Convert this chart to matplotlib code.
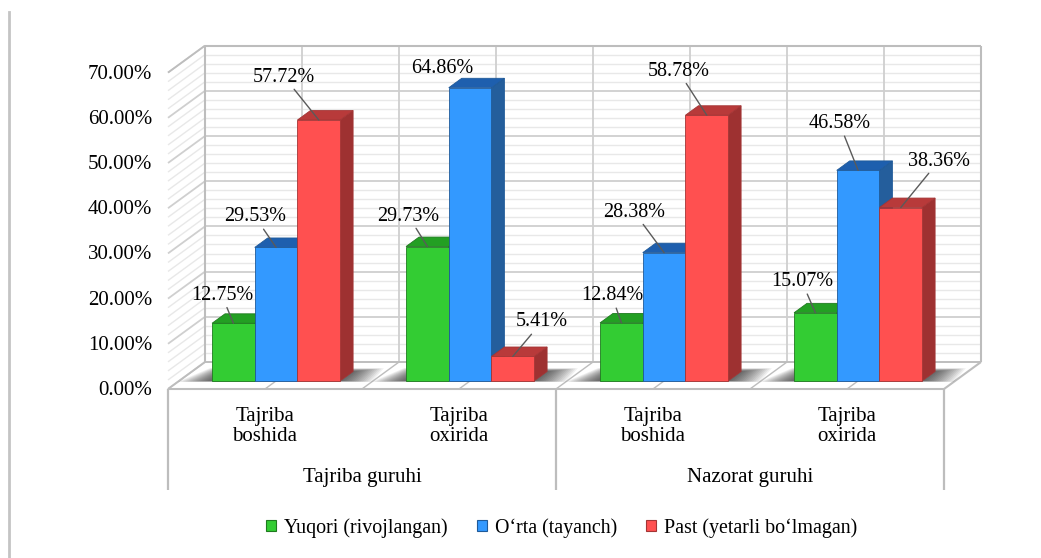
import matplotlib
matplotlib.use("Agg")
import matplotlib.pyplot as plt
from matplotlib.patches import Polygon, Patch

# ---------------- data ----------------
categories = ["Tajriba\nboshida", "Tajriba\noxirida", "Tajriba\nboshida", "Tajriba\noxirida"]
groups = ["Tajriba guruhi", "Nazorat guruhi"]
series = ["Yuqori (rivojlangan)", "O\u2018rta (tayanch)", "Past (yetarli bo\u2018lmagan)"]
yuqori = [12.75, 29.73, 12.84, 15.07]
orta = [29.53, 64.86, 28.38, 46.58]
past = [57.72, 5.41, 58.78, 38.36]
yticks = [0, 10, 20, 30, 40, 50, 60, 70]

# ---------------- styles / layout ----------------
values = [yuqori, orta, past]
front_cols = ["#33CC33", "#3399FF", "#FF5050"]
top_cols = ["#239F23", "#1E5FAE", "#B83A3A"]
side_cols = ["#1E8A1E", "#245E9C", "#9E3131"]
edge_cols = ["#1F7A1F", "#1F5A99", "#A33535"]

# label offsets (pixels) from the bar's front-top centre, per series per category
label_off = [
    [(-11.5, 28), (-19, 30.5), (-9.5, 27), (-13.5, 31)],
    [(-21, 30.5), (-28, 19), (-30, 40.5), (-18.5, 46.5)],
    [(-34.5, 43), (29, 34.5), (-28.5, 44), (38, 46.5)],
]
leader = [
    [True, True, True, True],
    [True, False, True, True],
    [True, True, True, True],
]

W, H = 1041, 558
PX_X, PX_Y = 194.0, 4.52      # pixels per category / per percent
X0, Y0 = 168.0, 389.0         # pixel of front-left floor corner
DX, DY = 37.0 / PX_X, 27.0 / PX_Y   # full depth offset (data units)
ZF, ZB = 0.30, 0.65           # bar depth range
BW = 42.7 / PX_X
YMAX = 70
BOX_BOTTOM = -22.3
CAT_Y = -8.3
GRP_Y = -19.5

plt.rcParams["font.family"] = ["Liberation Serif", "DejaVu Serif"]
FS = 14.5

fig = plt.figure(figsize=(W / 100, H / 100), dpi=100)
ax = fig.add_axes([0, 0, 1, 1])
ax.set_xlim(-X0 / PX_X, (W - X0) / PX_X)
ax.set_ylim(-(H - Y0) / PX_Y, Y0 / PX_Y)
ax.axis("off")

ncat = len(categories)


def P(x, y, z):
    return (x + z * DX, y + z * DY)


def line(p, q, color, lw, z=1):
    ax.plot([p[0], q[0]], [p[1], q[1]], color=color, lw=lw, zorder=z,
            solid_capstyle="butt")


# page border line at the left
fig.add_artist(plt.Line2D([8.5 / W, 8.5 / W], [0, 1 - 12 / H], color="#C4C4C4", lw=2))

# ---------------- walls ----------------
MAJ, MIN, FRAME = "#CFCFCF", "#E8E8E8", "#BDBDBD"
for v in range(0, YMAX + 1, 2):
    major = v % 10 == 0
    c = MAJ if major else MIN
    lw = 1.3 if major else 1.0
    line(P(0, v, 1), P(ncat, v, 1), c, lw, 1 if not major else 1.1)
    line(P(0, v, 0), P(0, v, 1), c, lw, 1 if not major else 1.1)
for j in range(1, 2 * ncat):
    line(P(j * 0.5, 0, 1), P(j * 0.5, YMAX, 1), MAJ, 1.3, 1.1)
    line(P(j * 0.5, 0, 0), P(j * 0.5, 0, 1), FRAME, 1.0, 1.1)
line(P(0, 0, 1), P(0, YMAX, 1), FRAME, 1.5, 1.2)
line(P(ncat, 0, 1), P(ncat, YMAX, 1), FRAME, 1.5, 1.2)
line(P(0, YMAX, 1), P(ncat, YMAX, 1), FRAME, 1.5, 1.2)
line(P(0, YMAX, 0), P(0, YMAX, 1), FRAME, 1.2, 1.2)
line(P(0, 0, 1), P(ncat, 0, 1), FRAME, 1.3, 1.2)
line(P(0, 0, 0), P(ncat, 0, 0), FRAME, 1.5, 1.2)
line(P(0, 0, 0), P(0, 0, 1), FRAME, 1.3, 1.2)
line(P(ncat, 0, 0), P(ncat, 0, 1), FRAME, 1.5, 1.2)

for xb in [0, 2, 4]:
    line((xb, 0), (xb, BOX_BOTTOM), FRAME, 1.6, 1.2)

# ---------------- shadows ----------------
nsh = 14
for k in range(ncat):
    gx0 = k + 0.5 - 1.5 * BW
    gx1 = k + 0.5 + 1.5 * BW
    for i in range(nsh):
        f = (nsh - i) / nsh
        ex = 0.17 * f
        ez = 0.12 * f
        pts = [P(gx0 - ex, 0, ZF - ez * 0.3), P(gx1 + ex, 0, ZF - ez * 0.3),
               P(gx1 + ex * 0.8, 0, ZB + ez), P(gx0 - ex * 0.6, 0, ZB + ez)]
        ax.add_patch(Polygon(pts, closed=True, facecolor="black", edgecolor="none",
                             alpha=0.06, zorder=2))

# ---------------- bars ----------------
zo = 3.0
for k in range(ncat):
    for s in range(3):
        h = values[s][k]
        xl = k + 0.5 - 1.5 * BW + s * BW
        xr = xl + BW
        side = [P(xr, 0, ZF), P(xr, 0, ZB), P(xr, h, ZB), P(xr, h, ZF)]
        ax.add_patch(Polygon(side, closed=True, facecolor=side_cols[s],
                             edgecolor=edge_cols[s], lw=0.6, zorder=zo))
        top = [P(xl, h, ZF), P(xr, h, ZF), P(xr, h, ZB), P(xl, h, ZB)]
        ax.add_patch(Polygon(top, closed=True, facecolor=top_cols[s],
                             edgecolor=edge_cols[s], lw=0.6, zorder=zo + 0.001))
        fx, fy = P(xl, 0, ZF)
        ax.bar(fx, h, width=BW, bottom=fy, align="edge", color=front_cols[s],
               edgecolor=edge_cols[s], lw=0.6, zorder=zo + 0.002)
        zo += 0.01

# ---------------- data labels ----------------
for s in range(3):
    for k in range(ncat):
        h = values[s][k]
        xc = k + 0.5 - 1.5 * BW + (s + 0.5) * BW
        pt = P(xc, h, ZF)
        dx, dy = label_off[s][k]
        kw = {}
        if leader[s][k]:
            kw["arrowprops"] = dict(arrowstyle="-", color="#5A5A5A", lw=1.0,
                                    shrinkA=0, shrinkB=0)
        ax.annotate(f"{h:.2f}%", xy=pt, xytext=(dx, dy), textcoords="offset pixels",
                    ha="center", va="center", fontsize=FS, color="black",
                    zorder=10, **kw)

# ---------------- axis tick labels ----------------
for v in yticks:
    ax.annotate(f"{v:.2f}%", xy=(0, v), xytext=(-16, -1.5), textcoords="offset pixels",
                ha="right", va="center", fontsize=15, color="black")

for k, c in enumerate(categories):
    ax.text(k + 0.5, CAT_Y, c, ha="center", va="center", fontsize=15,
            linespacing=1.12)
for g, name in enumerate(groups):
    ax.text(2 * g + 1, GRP_Y, name, ha="center", va="center", fontsize=15)

# ---------------- legend ----------------
handles = [Patch(facecolor=front_cols[s], edgecolor=edge_cols[s], lw=0.8)
           for s in range(3)]
fig.legend(handles, series, loc="center", bbox_to_anchor=(562 / W, 1 - 528 / H),
           ncol=3, frameon=False, fontsize=14.4, handlelength=0.5, handleheight=0.5,
           handletextpad=0.4, columnspacing=1.45)

fig.savefig("out.png", dpi=100)
